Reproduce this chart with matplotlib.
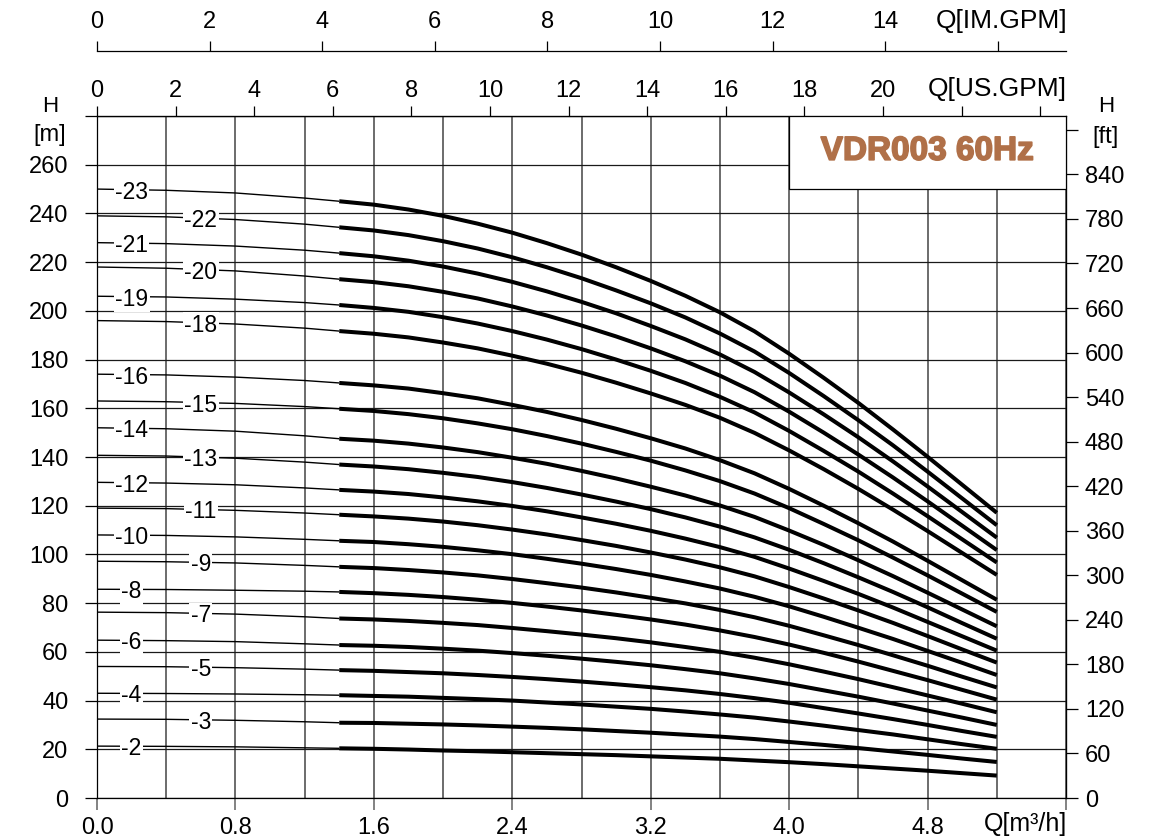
import numpy as np
import matplotlib.pyplot as plt
import matplotlib.patheffects as pe
from matplotlib.patches import Rectangle

plt.rcParams['font.family'] = ['Liberation Sans', 'DejaVu Sans']

q = [0.0, 0.4, 0.8, 1.2, 1.4, 1.6, 1.8, 2.0, 2.2, 2.4, 2.6, 2.8,
     3.0, 3.2, 3.4, 3.6, 3.8, 4.0, 4.2, 4.4, 4.6, 4.8, 5.0, 5.2]

# head (m) for each stage count
h23 = [250, 249.5, 248.4, 246.3, 245.0, 243.6, 241.6, 239.0, 235.8, 232.1, 227.8, 223.1,
       217.9, 212.3, 206.2, 199.4, 191.6, 182.4, 172.5, 162.2, 151.3, 140.1, 128.6, 117.1]
h22 = [239, 238.6, 237.5, 235.6, 234.3, 233.0, 231.1, 228.6, 225.6, 222.0, 217.9, 213.4,
       208.4, 203.1, 197.3, 190.7, 183.3, 174.5, 165.0, 155.1, 144.8, 134.0, 123.0, 112.0]
h21 = [228, 227.6, 226.6, 224.9, 223.7, 222.4, 220.6, 218.2, 215.3, 211.9, 208.0, 203.7,
       199.0, 193.8, 188.3, 182.1, 174.9, 166.5, 157.5, 148.1, 138.2, 127.9, 117.4, 106.9]
h20 = [218, 217.5, 216.4, 214.3, 213.0, 211.8, 210.1, 207.8, 205.1, 201.8, 198.1, 194.0,
       189.5, 184.6, 179.3, 173.4, 166.6, 158.6, 150.0, 141.0, 131.6, 121.8, 111.8, 101.8]
h19 = [206, 205.7, 204.8, 203.4, 202.4, 201.2, 199.6, 197.4, 194.8, 191.7, 188.2, 184.3,
       180.0, 175.4, 170.4, 164.7, 158.3, 150.7, 142.5, 134.0, 125.0, 115.7, 106.2, 96.7]
h18 = [196, 195.6, 194.6, 192.9, 191.7, 190.6, 189.1, 187.0, 184.6, 181.6, 178.3, 174.6,
       170.5, 166.1, 161.4, 156.1, 149.9, 142.7, 135.0, 126.9, 118.4, 109.6, 100.6, 91.6]
h16 = [174, 173.7, 172.8, 171.4, 170.4, 169.4, 168.1, 166.2, 164.1, 161.4, 158.5, 155.2,
       151.6, 147.7, 143.5, 138.7, 133.3, 126.9, 120.0, 112.8, 105.3, 97.4, 89.4, 81.4]
h15 = [163, 162.7, 162.0, 160.7, 159.8, 158.9, 157.6, 155.9, 153.8, 151.4, 148.6, 145.5,
       142.1, 138.5, 134.5, 130.1, 125.0, 119.0, 112.5, 105.8, 98.7, 91.4, 83.9, 76.4]
h14 = [152, 151.6, 150.6, 148.7, 147.5, 146.7, 145.5, 143.9, 142.0, 139.7, 137.2, 134.3,
       131.2, 127.8, 124.2, 120.1, 115.4, 109.8, 103.9, 97.6, 91.1, 84.3, 77.4, 70.5]
h13 = [140.7, 140.4, 139.5, 137.9, 136.9, 136.1, 135.0, 133.5, 131.8, 129.7, 127.3, 124.6,
       121.7, 118.6, 115.2, 111.4, 107.0, 101.9, 96.4, 90.6, 84.6, 78.3, 71.8, 65.4]
h12 = [129.6, 129.3, 128.6, 127.3, 126.5, 125.8, 124.8, 123.4, 121.8, 119.9, 117.7, 115.2,
       112.6, 109.7, 106.5, 103.0, 99.0, 94.2, 89.1, 83.8, 78.2, 72.3, 66.4, 60.5]
h11 = [119, 118.8, 118.1, 117.0, 116.3, 115.6, 114.7, 113.5, 112.0, 110.2, 108.2, 105.9,
       103.5, 100.8, 97.9, 94.7, 91.0, 86.6, 81.9, 77.0, 71.9, 66.5, 61.0, 55.6]
h10 = [108, 107.8, 107.2, 106.2, 105.6, 105.1, 104.2, 103.1, 101.7, 100.1, 98.2, 96.2,
       94.0, 91.6, 88.9, 86.0, 82.6, 78.7, 74.4, 69.9, 65.3, 60.4, 55.5, 50.5]
h9 = [97.2, 97.0, 96.5, 95.5, 94.9, 94.4, 93.6, 92.6, 91.4, 89.9, 88.2, 86.4,
      84.4, 82.2, 79.9, 77.2, 74.2, 70.7, 66.8, 62.8, 58.6, 54.3, 49.8, 45.4]
h8 = [85.7, 85.6, 85.3, 84.9, 84.6, 84.1, 83.4, 82.5, 81.4, 80.1, 78.6, 77.0,
      75.2, 73.3, 71.2, 68.8, 66.1, 63.0, 59.6, 56.0, 52.2, 48.4, 44.4, 40.4]
h7 = [76.3, 76.1, 75.5, 74.4, 73.7, 73.3, 72.7, 71.9, 71.0, 69.8, 68.5, 67.1,
      65.6, 63.9, 62.0, 60.0, 57.6, 54.9, 51.9, 48.8, 45.5, 42.1, 38.7, 35.2]
h6 = [64.8, 64.6, 64.2, 63.3, 62.8, 62.5, 62.0, 61.3, 60.5, 59.5, 58.4, 57.2,
      55.9, 54.5, 52.9, 51.2, 49.1, 46.8, 44.2, 41.6, 38.8, 35.9, 33.0, 30.0]
h5 = [54, 53.9, 53.5, 52.9, 52.5, 52.2, 51.7, 51.2, 50.5, 49.7, 48.8, 47.8,
      46.7, 45.5, 44.2, 42.7, 41.0, 39.1, 36.9, 34.7, 32.4, 30.0, 27.5, 25.1]
h4 = [43, 42.9, 42.7, 42.4, 42.2, 41.9, 41.6, 41.1, 40.6, 40.0, 39.2, 38.4,
      37.5, 36.6, 35.5, 34.3, 33.0, 31.4, 29.7, 27.9, 26.1, 24.1, 22.1, 20.2]
h3 = [32.4, 32.3, 31.9, 31.3, 30.9, 30.8, 30.5, 30.2, 29.8, 29.3, 28.8, 28.2,
      27.5, 26.8, 26.0, 25.2, 24.2, 23.0, 21.8, 20.5, 19.1, 17.7, 16.2, 14.8]
h2 = [21.3, 21.2, 21.0, 20.6, 20.4, 20.2, 19.9, 19.5, 19.2, 18.8, 18.4, 18.0,
      17.6, 17.1, 16.6, 16.1, 15.4, 14.7, 13.9, 13.0, 12.1, 11.2, 10.2, 9.2]

curves = {23: h23, 22: h22, 21: h21, 20: h20, 19: h19, 18: h18, 16: h16,
          15: h15, 14: h14, 13: h13, 12: h12, 11: h11, 10: h10, 9: h9,
          8: h8, 7: h7, 6: h6, 5: h5, 4: h4, 3: h3, 2: h2}
left_labels = [23, 21, 19, 16, 14, 12, 10, 8, 6, 4, 2]
THICK_FROM = 4   # index of q = 1.4, where the working range starts

x_ticks = [0.0, 0.8, 1.6, 2.4, 3.2, 4.0, 4.8, 5.6]
x_labels = ['0.0', '0.8', '1.6', '2.4', '3.2', '4.0', '4.8', '']
us_ticks = list(range(0, 25, 2))
im_ticks = list(range(0, 17, 2))
ft_ticks = list(range(0, 901, 60))

US_PER_M3H = 4.403
IM_PER_M3H = 3.073
FT_PER_M = 3.2808
TITLE_COLOR = '#B07048'

W, H = 1157, 838
fig = plt.figure(figsize=(W / 100, H / 100), dpi=100)
ax = fig.add_axes([97 / W, 1 - 798 / H, (1066 - 97) / W, (798 - 116) / H])
ax.set_xlim(0, 5.6)
ax.set_ylim(0, 280)

# grid
ax.set_xticks(x_ticks)
ax.set_xticklabels(x_labels)
ax.set_xticks(np.arange(0, 5.61, 0.4), minor=True)
ax.set_yticks(range(0, 281, 20))
ax.set_yticklabels([str(v) if v < 280 else '' for v in range(0, 281, 20)])
ax.grid(True, which='both', axis='x', color='#606060', lw=1.3)
ax.grid(True, which='major', axis='y', color='#1a1a1a', lw=0.9)
ax.set_axisbelow(True)
ax.tick_params(which='minor', length=0)
ax.tick_params(axis='y', direction='out', length=8.6, width=0.9, pad=12, labelsize=17)
ax.tick_params(axis='x', which='major', direction='out', length=8.6, width=1.1,
               pad=5, labelsize=17, color='#606060')
for s in ax.spines.values():
    s.set_linewidth(0.9)

# curves: thin up to 1.4 m3/h, thick after
for n, h in curves.items():
    ax.plot(q[:THICK_FROM + 1], h[:THICK_FROM + 1], color='black', lw=1.0, zorder=3,
            solid_capstyle='butt', solid_joinstyle='round')
    ax.plot(q[THICK_FROM:], h[THICK_FROM:], color='black', lw=2.9, zorder=3,
            solid_capstyle='butt', solid_joinstyle='round')
    ql = 0.20 if n in left_labels else 0.60
    hl = np.interp(ql, q, h)
    ax.text(ql, hl, f'-{n}', ha='center', va='center_baseline', fontsize=16.5,
            zorder=5, bbox=dict(fc='white', ec='none', pad=1.0))

# model box
ax.add_patch(Rectangle((4.0, 250), 1.6, 30, fc='white', ec='black', lw=0.9, zorder=4))
ax.text(4.8, 265.5, 'VDR003 60Hz', ha='center', va='center', fontsize=24,
        fontweight='bold', color=TITLE_COLOR, zorder=6,
        path_effects=[pe.withStroke(linewidth=1.2, foreground=TITLE_COLOR)])

# top axes in gallons
sec_us = ax.secondary_xaxis('top', functions=(lambda x: x * US_PER_M3H, lambda g: g / US_PER_M3H))
sec_us.set_xticks(us_ticks)
sec_us.set_xticklabels([str(v) if v <= 20 else '' for v in us_ticks])
sec_us.tick_params(direction='out', length=7, width=0.9, pad=3, labelsize=17)

loc_im = (798 - 51) / (798 - 116)
sec_im = ax.secondary_xaxis(loc_im, functions=(lambda x: x * IM_PER_M3H, lambda g: g / IM_PER_M3H))
sec_im.set_xticks(im_ticks)
sec_im.set_xticklabels([str(v) if v <= 14 else '' for v in im_ticks])
sec_im.tick_params(direction='out', length=7, width=0.9, pad=6, labelsize=17)
sec_im.spines['top'].set_linewidth(0.9)

# right axis in feet
sec_ft = ax.secondary_yaxis('right', functions=(lambda m: m * FT_PER_M, lambda f: f / FT_PER_M))
sec_ft.set_yticks(ft_ticks)
sec_ft.set_yticklabels([str(v) if v < 900 else '' for v in ft_ticks])
sec_ft.tick_params(direction='out', length=8.6, width=0.9, pad=5, labelsize=17)

# axis titles
def ftext(x, y, s, **kw):
    fig.text(x / W, 1 - y / H, s, **kw)

ftext(50, 106, 'H', ha='center', va='center', fontsize=16)
ftext(50, 135, '[m]', ha='center', va='center', fontsize=17)
ftext(1106, 106, 'H', ha='center', va='center', fontsize=16)
ftext(1106, 137, '[ft]', ha='center', va='center', fontsize=17)
ftext(1067, 89, 'Q[US.GPM]', ha='right', va='center', fontsize=19)
ftext(1067, 21, 'Q[IM.GPM]', ha='right', va='center', fontsize=19)
ftext(1067, 824, 'Q[m³/h]', ha='right', va='center', fontsize=18)

fig.savefig('out.png', dpi=100)
